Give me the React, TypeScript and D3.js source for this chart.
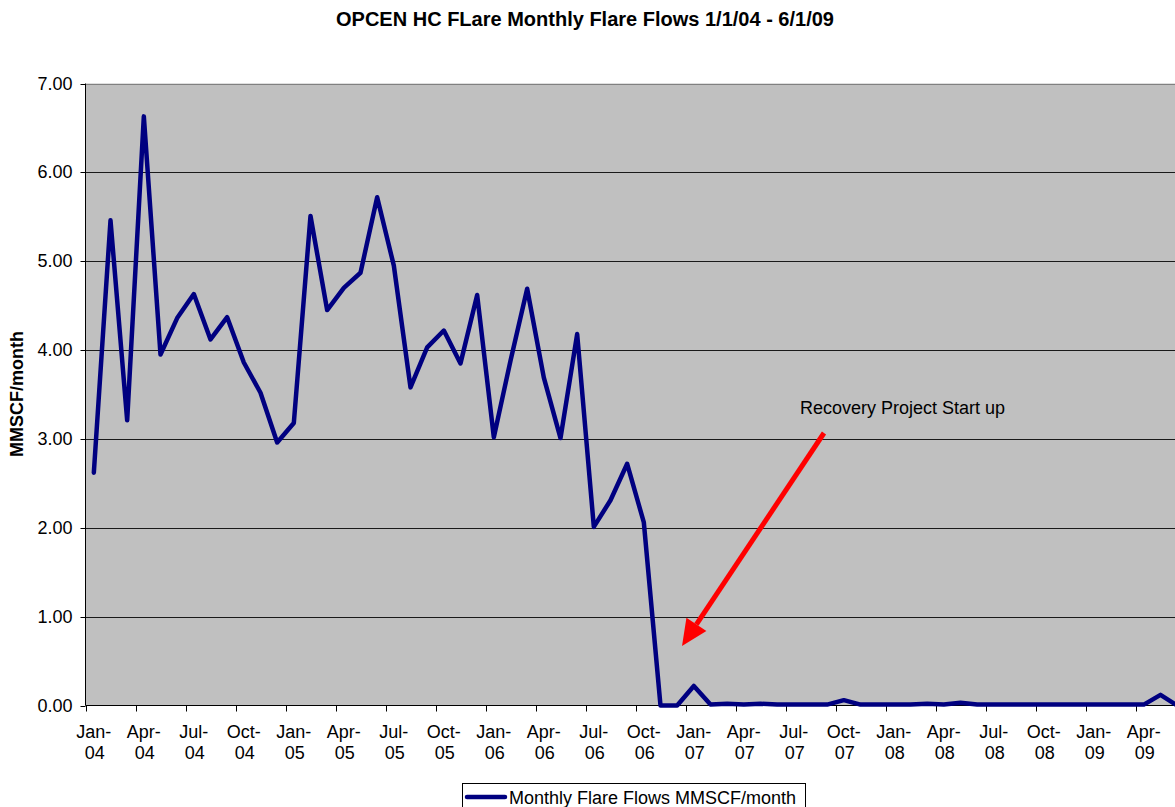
import React, { useRef, useEffect } from "react";
import { select, scaleBand, scaleLinear, line, range } from "d3";

// month labels (first line / second line)
const months = [
  "Jan-04", "Feb-04", "Mar-04", "Apr-04", "May-04", "Jun-04", "Jul-04", "Aug-04", "Sep-04", "Oct-04", "Nov-04", "Dec-04",
  "Jan-05", "Feb-05", "Mar-05", "Apr-05", "May-05", "Jun-05", "Jul-05", "Aug-05", "Sep-05", "Oct-05", "Nov-05", "Dec-05",
  "Jan-06", "Feb-06", "Mar-06", "Apr-06", "May-06", "Jun-06", "Jul-06", "Aug-06", "Sep-06", "Oct-06", "Nov-06", "Dec-06",
  "Jan-07", "Feb-07", "Mar-07", "Apr-07", "May-07", "Jun-07", "Jul-07", "Aug-07", "Sep-07", "Oct-07", "Nov-07", "Dec-07",
  "Jan-08", "Feb-08", "Mar-08", "Apr-08", "May-08", "Jun-08", "Jul-08", "Aug-08", "Sep-08", "Oct-08", "Nov-08", "Dec-08",
  "Jan-09", "Feb-09", "Mar-09", "Apr-09", "May-09", "Jun-09",
];

// Monthly Flare Flows MMSCF/month
const flows = [
  2.62, 5.46, 3.21, 6.63, 3.95, 4.36, 4.63, 4.12, 4.37, 3.86, 3.52, 2.96,
  3.18, 5.51, 4.45, 4.70, 4.87, 5.72, 4.95, 3.58, 4.03, 4.22, 3.85, 4.62,
  3.02, 3.88, 4.69, 3.69, 3.01, 4.18, 2.01, 2.31, 2.72, 2.06, 0.0, 0.0,
  0.22, 0.01, 0.02, 0.01, 0.02, 0.01, 0.01, 0.01, 0.01, 0.06, 0.01, 0.01,
  0.01, 0.01, 0.02, 0.01, 0.03, 0.01, 0.01, 0.01, 0.01, 0.01, 0.01, 0.01,
  0.01, 0.01, 0.01, 0.01, 0.12, 0.0,
];

const yTicks = [0, 1, 2, 3, 4, 5, 6, 7];

const title = "OPCEN HC FLare Monthly Flare Flows 1/1/04 - 6/1/09";
const yTitle = "MMSCF/month";
const seriesName = "Monthly Flare Flows MMSCF/month";
const note = "Recovery Project Start up";

const W = 1175;
const H = 807;
const FONT = "'Liberation Sans', Arial, sans-serif";

function FlareChart() {
  const svgRef = useRef(null);

  useEffect(() => {
    const svg = select(svgRef.current);
    svg.selectAll("*").remove();

    const left = 85.5;
    const top = 83.5;
    const bottom = 705.5;
    const step = 50 / 3;

    const xScale = scaleBand()
      .domain(months.map((m, i) => i))
      .range([left, left + months.length * step])
      .padding(0);

    const yScale = scaleLinear().domain([0, 7]).range([bottom, top]);
    const right = left + months.length * step;

    // plot area
    svg
      .append("rect")
      .attr("x", left)
      .attr("y", top)
      .attr("width", right - left)
      .attr("height", bottom - top)
      .attr("fill", "#c0c0c0");

    // gridlines
    svg
      .selectAll(".grid")
      .data(yTicks.filter(t => t > 0))
      .join("line")
      .attr("class", "grid")
      .attr("x1", left)
      .attr("x2", right)
      .attr("y1", t => Math.round(yScale(t)) + 0.5)
      .attr("y2", t => Math.round(yScale(t)) + 0.5)
      .attr("stroke", t => (t === 7 ? "#808080" : "#1a1a1a"))
      .attr("stroke-width", 1);

    // y axis
    svg
      .append("line")
      .attr("x1", left)
      .attr("x2", left)
      .attr("y1", top)
      .attr("y2", bottom)
      .attr("stroke", "#000");

    svg
      .selectAll(".ytick")
      .data(yTicks)
      .join("line")
      .attr("class", "ytick")
      .attr("x1", left - 5)
      .attr("x2", left)
      .attr("y1", t => Math.round(yScale(t)) + 0.5)
      .attr("y2", t => Math.round(yScale(t)) + 0.5)
      .attr("stroke", "#000");

    svg
      .selectAll(".ylabel")
      .data(yTicks)
      .join("text")
      .attr("class", "ylabel")
      .attr("x", left - 13)
      .attr("y", t => yScale(t) + 6)
      .attr("text-anchor", "end")
      .attr("font-family", FONT)
      .attr("font-size", 18)
      .attr("fill", "#000")
      .text(t => t.toFixed(2));

    // x axis
    svg
      .append("line")
      .attr("x1", left)
      .attr("x2", right)
      .attr("y1", bottom)
      .attr("y2", bottom)
      .attr("stroke", "#000");

    const tickIdx = range(0, months.length + 1, 3);
    svg
      .selectAll(".xtick")
      .data(tickIdx)
      .join("line")
      .attr("class", "xtick")
      .attr("x1", i => Math.round(left + i * step) + 0.5)
      .attr("x2", i => Math.round(left + i * step) + 0.5)
      .attr("y1", bottom)
      .attr("y2", bottom + 6)
      .attr("stroke", "#000");

    const labelIdx = range(0, months.length, 3);
    const xl = svg
      .selectAll(".xlabel")
      .data(labelIdx)
      .join("text")
      .attr("class", "xlabel")
      .attr("text-anchor", "middle")
      .attr("font-family", FONT)
      .attr("font-size", 18)
      .attr("fill", "#000");
    xl.append("tspan")
      .attr("x", i => xScale(i) + xScale.bandwidth() / 2)
      .attr("y", 738)
      .text(i => months[i].split("-")[0] + "-");
    xl.append("tspan")
      .attr("x", i => xScale(i) + xScale.bandwidth() / 2 + 1)
      .attr("y", 759)
      .text(i => months[i].split("-")[1]);

    // series line
    const lineGen = line()
      .x((d, i) => xScale(i) + xScale.bandwidth() / 2)
      .y(d => yScale(d));

    svg
      .append("path")
      .datum(flows)
      .attr("d", lineGen)
      .attr("fill", "none")
      .attr("stroke", "#000080")
      .attr("stroke-width", 4.5)
      .attr("stroke-linejoin", "round")
      .attr("stroke-linecap", "round");

    // annotation arrow
    const ax1 = 824, ay1 = 433, ax2 = 682, ay2 = 646;
    const ang = Math.atan2(ay2 - ay1, ax2 - ax1);
    const headLen = 26, headW = 12;
    const bx = ax2 - headLen * Math.cos(ang);
    const by = ay2 - headLen * Math.sin(ang);
    svg
      .append("line")
      .attr("x1", ax1)
      .attr("y1", ay1)
      .attr("x2", bx)
      .attr("y2", by)
      .attr("stroke", "#ff0000")
      .attr("stroke-width", 5);
    svg
      .append("polygon")
      .attr(
        "points",
        [
          [ax2, ay2],
          [bx + headW * Math.sin(ang), by - headW * Math.cos(ang)],
          [bx - headW * Math.sin(ang), by + headW * Math.cos(ang)],
        ].map(p => p.join(",")).join(" ")
      )
      .attr("fill", "#ff0000");

    svg
      .append("text")
      .attr("x", 800)
      .attr("y", 414)
      .attr("font-family", FONT)
      .attr("font-size", 18)
      .attr("fill", "#000")
      .text(note);

    // title
    svg
      .append("text")
      .attr("x", 585)
      .attr("y", 26)
      .attr("text-anchor", "middle")
      .attr("font-family", FONT)
      .attr("font-weight", "bold")
      .attr("font-size", 20)
      .attr("fill", "#000")
      .text(title);

    // y title
    svg
      .append("text")
      .attr("transform", "translate(23,394) rotate(-90)")
      .attr("text-anchor", "middle")
      .attr("font-family", FONT)
      .attr("font-weight", "bold")
      .attr("font-size", 18)
      .attr("fill", "#000")
      .text(yTitle);

    // legend
    svg
      .append("rect")
      .attr("x", 462.5)
      .attr("y", 783.5)
      .attr("width", 343)
      .attr("height", 40)
      .attr("fill", "#fff")
      .attr("stroke", "#000");
    svg
      .append("line")
      .attr("x1", 467)
      .attr("x2", 505)
      .attr("y1", 797)
      .attr("y2", 797)
      .attr("stroke", "#000080")
      .attr("stroke-width", 4.5)
      .attr("stroke-linecap", "round");
    svg
      .append("text")
      .attr("x", 509)
      .attr("y", 804)
      .attr("font-family", FONT)
      .attr("font-size", 18)
      .attr("fill", "#000")
      .text(seriesName);
  }, []);

  return (
    <svg
      ref={svgRef}
      width={W}
      height={H}
      style={{ position: "absolute", left: 0, top: 0, display: "block", background: "#fff" }}
    ></svg>
  );
}

export default function App() {
  return (
    <div style={{ width: W, height: H, overflow: "hidden" }}>
      <FlareChart />
    </div>
  );
}
